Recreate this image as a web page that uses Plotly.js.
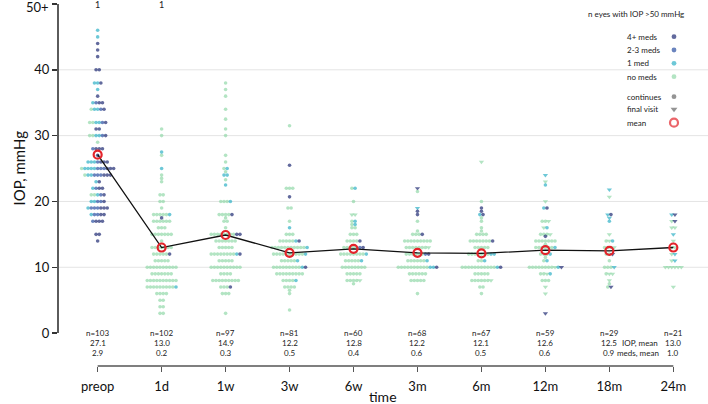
<!DOCTYPE html>
<html>
<head>
<meta charset="utf-8">
<script src="https://cdn.plot.ly/plotly-3.0.1.min.js"></script>
<style>html,body{margin:0;padding:0;background:#fff}#chart{width:708px;height:404px}</style>
</head>
<body>
<div id="chart"></div>
<script>
// ---------- data ----------
const categories = ['preop','1d','1w','3w','6w','3m','6m','12m','18m','24m'];
const nEyes     = [103,102,97,81,60,68,67,59,29,21];
const meanIOP   = [27.1,13.0,14.9,12.2,12.8,12.2,12.1,12.6,12.5,13.0];
const meanMeds  = [2.9,0.2,0.3,0.5,0.4,0.6,0.5,0.6,0.9,1.0];
const over50    = [1,1,0,0,0,0,0,0,0,0];
const yTickVals = [0,10,20,30,40,50];
const yTickText = ['0','10','20','30','40',''];
const yTopLabel = '50+';

// rows "IOP:eyes" ; g = no meds, t = 1 med, b = 2-3 meds, n = 4+ meds ; UPPER CASE = final visit
const rowsPreop = ["46:t","45:t","44:n","43:n","42:n","40:nn","38:ttn","37:t","36:n","35:tbnn","34:gttbn","32:ggttbn","31:nn","30:ggttbn","29:g","28:bnnn","27:n","26:tttbnnn","25:gttttbbbnnn","24:gttbbbnnn","23:tn","22:tbnn","21:ggtbn","20:ttbbn","19:tbbbnnn","18:tbbnn","17:bnnn","15:nn","14:n"];
const rows1d = ["31:g","30:g","27.5:t","27:g","25:t","24:g","23.5:g","23:g","21:gg","20:gg","19:g","18:gggggt","17.5:n","17:gggggg","16:ggg","15:ggggggg","14:g","13:ggggggg","12:gggggn","11:ggggg","10:gggggggggg","9:ggggggg","8:gggggggggg","7:gggggggggt","6:gggg","5:gg","4:gg","3:gg"];
const rows1w = ["38:g","37:g","36:g","34:g","32.5:g","31:g","30:g","27:g","26:g","25:gt","24.5:g","24:tt","23.3:g","22.5:t","20:gggt","18:ggggn","17.5:g","17:gg","16:g","15:ggggggggnn","14:ggggggg","13:ggggg","12:ggggggggtn","11:ggggg","10:gggggggggg","9:gggg","8:ggggggggg","7:gggn","6:ggg","3:g"];
const rows3w = ["31.5:g","25.5:n","22:ggg","20.7:n","19:gg","17:g","16:t","15:ggg","14:gggggtn","13:gggggggggggt","12:ggggggggggt","11:gggggt","10:gggggggggtn","9:ggggggggg","8:ggggt","7:gggg","6.5:g","6:g","3.5:g"];
const rows6w = ["22:gt","20:g","18:GG","17:gt","16.5:gt","16:gg","15:ggg","14:ggggn","13:gggggbn","12:ggggggggt","11:gggggt","10:gggggggg","9:ggggg","8:ggggG","7.5:g"];
const rows3m = ["22:N","21.5:g","19:T","18.5:n","18:n","17:g","15.5:g","15:gggn","14:ggggggggg","13:gggggggG","12:ggggggbn","11:ggggggt","10:ggggggggggttn","9:gggggg","8:ggggg","6:g"];
const rows6m = ["26:G","20:g","19:n","18.5:n","18:tn","17.5:g","17:g","16:g","15.5:g","15:gggg","14:gggggggn","13:ggggg","12:gggggggtt","11:ggt","10:gggggggggggtn","9:ggggg","8:ggggggG","7:gg","6:g"];
const rows12m = ["24:T","23:G","22.5:t","20:G","19:tn","17:ggG","16:tG","15:gggG","14.7:n","14:ggggggg","13.5:g","13:ggggggt","12:gggt","11.5:g","11:gt","10:ggggggggGtN","9:ggGt","8:ggg","7:G","6:G","3:N"];
const rows18m = ["21.8:T","20.7:G","18:Tn","17.5:T","17:t","15:G","14:gGt","13:gggG","12:ggN","11:g","10:gggT","9:gGG","8:G","7.5:g","7:gN"];
const rows24m = ["18:TN","17:GN","16:GG","15:T","14:G","13:GG","12:GT","11:GT","10:GGGGGG","7:G"];
const allRows = [rowsPreop,rows1d,rows1w,rows3w,rows6w,rows3m,rows6m,rows12m,rows18m,rows24m];

// ---------- styling ----------
const FONT = 'Lato, "Open Sans", sans-serif';
const colorOf = {g:'#93d9aa', t:'#2fb1c6', b:'#2b50a3', n:'#1f2b74'};
const orderOf = {g:0, t:1, b:2, n:3};
const DX = 0.05;   // swarm step in category units

// ---------- build swarm ----------
const px=[], py=[], pc=[], ps=[], pz=[];
allRows.forEach((rows, i) => {
  rows.forEach(r => {
    const parts = r.split(':');
    const v = parseFloat(parts[0]);
    const eyes = parts[1].split('').sort((a,b)=>orderOf[a.toLowerCase()]-orderOf[b.toLowerCase()]);
    const k = eyes.length;
    eyes.forEach((e, j) => {
      const fin = (e === e.toUpperCase());
      px.push(i + (j - (k-1)/2) * DX);
      py.push(v);
      pc.push(colorOf[e.toLowerCase()]);
      ps.push(fin ? 'triangle-down' : 'circle');
      pz.push(fin ? 4.6 : 3.6);
    });
  });
});
const xIdx = categories.map((c,i)=>i);

const traces = [
  {type:'scatter', mode:'markers', x:px, y:py, hoverinfo:'skip',
   marker:{color:pc, symbol:ps, size:pz, line:{width:0}}},
  {type:'scatter', mode:'lines+markers', x:xIdx, y:meanIOP, hoverinfo:'skip',
   line:{color:'#111', width:1.3},
   marker:{symbol:'circle-open', size:8, color:'#e3242b', line:{width:2.2, color:'#e3242b'}}},
  // legend markers (pixel coordinates on overlay axes)
  {type:'scatter', mode:'markers', xaxis:'x2', yaxis:'y2', hoverinfo:'skip',
   x:[674,674,674,674,674,674,674],
   y:[36.7,50,63.3,76.7,96.7,109.3,122.7],
   marker:{color:[colorOf.n,colorOf.b,colorOf.t,colorOf.g,'#666','#666','#e3242b'],
           symbol:['circle','circle','circle','circle','circle','triangle-down','circle-open'],
           size:[4.8,4.8,4.8,4.8,4.8,6,8],
           line:{width:[0,0,0,0,0,0,2.2], color:'#e3242b'}}}
];

const L=58, R=708, T=2, B=366;
const pxX = x => (x - L)/(R - L);
const pyY = y => (B - y)/(B - T);

const annotations = [];
categories.forEach((c,i)=>{
  [[ 'n='+nEyes[i],333],[meanIOP[i].toFixed(1),343],[meanMeds[i].toFixed(1),353]].forEach(([t,yy])=>{
    annotations.push({xref:'x', yref:'paper', x:i, y:pyY(yy), text:t, showarrow:false,
      xanchor:'center', yanchor:'middle', font:{family:FONT, size:8, color:'#222'}});
  });
  if (over50[i] > 0) {
    annotations.push({xref:'x', yref:'paper', x:i, y:pyY(5), text:String(over50[i]), showarrow:false,
      xanchor:'center', yanchor:'middle', font:{family:FONT, size:9, color:'#222'}});
  }
});
annotations.push({xref:'paper', yref:'paper', x:pxX(51), y:pyY(7), text:yTopLabel, showarrow:false, xanchor:'right', yanchor:'middle', font:{family:FONT,size:13,color:'#111'}});
annotations.push({xref:'paper', yref:'paper', x:pxX(660), y:pyY(343), text:'IOP, mean', showarrow:false, xanchor:'right', yanchor:'middle', font:{family:FONT,size:8,color:'#222'}});
annotations.push({xref:'paper', yref:'paper', x:pxX(661), y:pyY(353), text:'meds, mean', showarrow:false, xanchor:'right', yanchor:'middle', font:{family:FONT,size:8,color:'#222'}});
annotations.push({xref:'paper', yref:'paper', x:pxX(383), y:pyY(396), text:'time', showarrow:false, xanchor:'center', yanchor:'middle', font:{family:FONT,size:14,color:'#111'}});
annotations.push({xref:'paper', yref:'paper', x:pxX(18), y:pyY(168.5), text:'IOP, mmHg', textangle:-90, showarrow:false, xanchor:'center', yanchor:'middle', font:{family:FONT,size:15,color:'#111'}});
annotations.push({xref:'paper', yref:'paper', x:pxX(636), y:pyY(14), text:'n eyes with IOP >50 mmHg', showarrow:false, xanchor:'center', yanchor:'middle', font:{family:FONT,size:8,color:'#222'}});
const legendLabels = ['4+ meds','2-3 meds','1 med','no meds','continues','final visit','mean'];
const legendY = [36.7,50,63.3,76.7,96.7,109.3,122.7];
legendLabels.forEach((t,k)=>{
  annotations.push({xref:'paper', yref:'paper', x:pxX(625), y:pyY(legendY[k]), text:t, showarrow:false, xanchor:'left', yanchor:'middle', font:{family:FONT,size:8,color:'#222'}});
});

const shapes = [];
[10,20,30,40].forEach(g=>shapes.push({type:'line', xref:'paper', yref:'y', x0:0, x1:1, y0:g, y1:g, line:{color:'#e4e4e4', width:1}, layer:'below'}));
shapes.push({type:'line', xref:'paper', yref:'y', x0:0, x1:0, y0:0, y1:50, line:{color:'#333', width:1.6}});
shapes.push({type:'line', xref:'x', yref:'paper', x0:0, x1:categories.length-1, y0:0, y1:0, line:{color:'#555', width:1.6}});

const layout = {
  width:708, height:404,
  margin:{l:L, r:708-R, t:T, b:404-B, pad:0},
  paper_bgcolor:'#fff', plot_bgcolor:'#fff',
  showlegend:false,
  font:{family:FONT, color:'#222'},
  xaxis:{range:[-0.62, 9.542], tickvals:xIdx, ticktext:categories, ticks:'outside', ticklen:5, tickwidth:1.5, tickcolor:'#555',
         showgrid:false, zeroline:false, showline:false, ticklabelstandoff:3, tickfont:{family:FONT, size:13, color:'#111'}, fixedrange:true},
  yaxis:{range:[-5, 50.3], tickvals:yTickVals, ticktext:yTickText, ticks:'outside', ticklen:5, tickwidth:1.5, tickcolor:'#333',
         showgrid:false, zeroline:false, showline:false, tickfont:{family:FONT, size:13, color:'#111'}, fixedrange:true},
  xaxis2:{overlaying:'x', range:[L, R], visible:false, fixedrange:true},
  yaxis2:{overlaying:'y', range:[B, T], visible:false, fixedrange:true},
  shapes, annotations
};

Plotly.newPlot('chart', traces, layout, {displayModeBar:false, staticPlot:true});
</script>
</body>
</html>
